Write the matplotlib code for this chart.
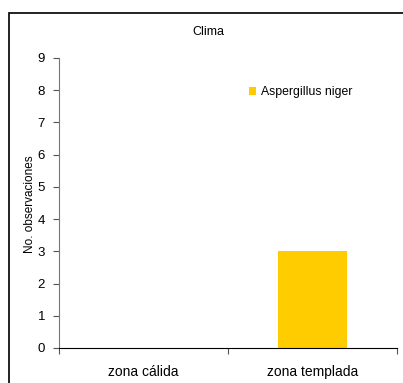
import matplotlib
matplotlib.use("Agg")
import matplotlib.pyplot as plt
from matplotlib.patches import Rectangle

categories = ["zona cálida", "zona templada"]
aspergillus_niger = [0, 3]
y_ticks = list(range(0, 10))

plt.rcParams["font.family"] = ["Liberation Sans", "DejaVu Sans"]

fig = plt.figure(figsize=(4.03, 3.83), dpi=100)
ax = fig.add_axes([59 / 403, 1 - 348 / 383, 338 / 403, 290 / 383])

x = list(range(len(categories)))
ax.bar(x, aspergillus_niger, width=0.41, color="#FFCC00", label="Aspergillus niger", zorder=2)

ax.set_xlim(-0.5, len(categories) - 0.5)
ax.set_ylim(0, 9)
ax.set_yticks(y_ticks)
ax.set_yticklabels([str(v) for v in y_ticks], fontsize=9.5)

# ticks between categories, labels centred under each one
ax.set_xticks([i - 0.5 for i in range(len(categories) + 1)])
ax.set_xticklabels([])
ax.set_xticks(x, minor=True)
ax.set_xticklabels(categories, minor=True, fontsize=10)
ax.tick_params(axis="x", which="minor", length=0, pad=12)
ax.tick_params(axis="x", which="major", length=4, width=0.8, direction="out", color="#555555")
ax.tick_params(axis="y", length=4, width=0.8, direction="out", color="#555555", pad=6)

for side in ("top", "right"):
    ax.spines[side].set_visible(False)
ax.spines["left"].set_color("#777777")
ax.spines["left"].set_linewidth(0.8)
ax.spines["bottom"].set_color("#000000")
ax.spines["bottom"].set_linewidth(0.8)

ax.set_ylabel("No. observaciones", fontsize=8.5)
ax.yaxis.set_label_coords(-23 / 338, 0.5 - 1 / 290)
fig.text(208 / 403, 1 - 32 / 383, "Clima", ha="center", va="center", fontsize=9)

ax.legend(loc="center left", bbox_to_anchor=(190 / 338, (348 - 92) / 290), frameon=False,
          fontsize=8.8, handlelength=0.6, handleheight=0.6, handletextpad=0.35,
          borderaxespad=0, borderpad=0)

# chart area frame, running off the right and bottom edges
fig.patches.append(Rectangle((9 / 403, -0.1), 1.2, 1 - 12.5 / 383 + 0.1,
                             transform=fig.transFigure, fill=False,
                             edgecolor="#111111", linewidth=1.3))

fig.savefig("out.png", dpi=100)
